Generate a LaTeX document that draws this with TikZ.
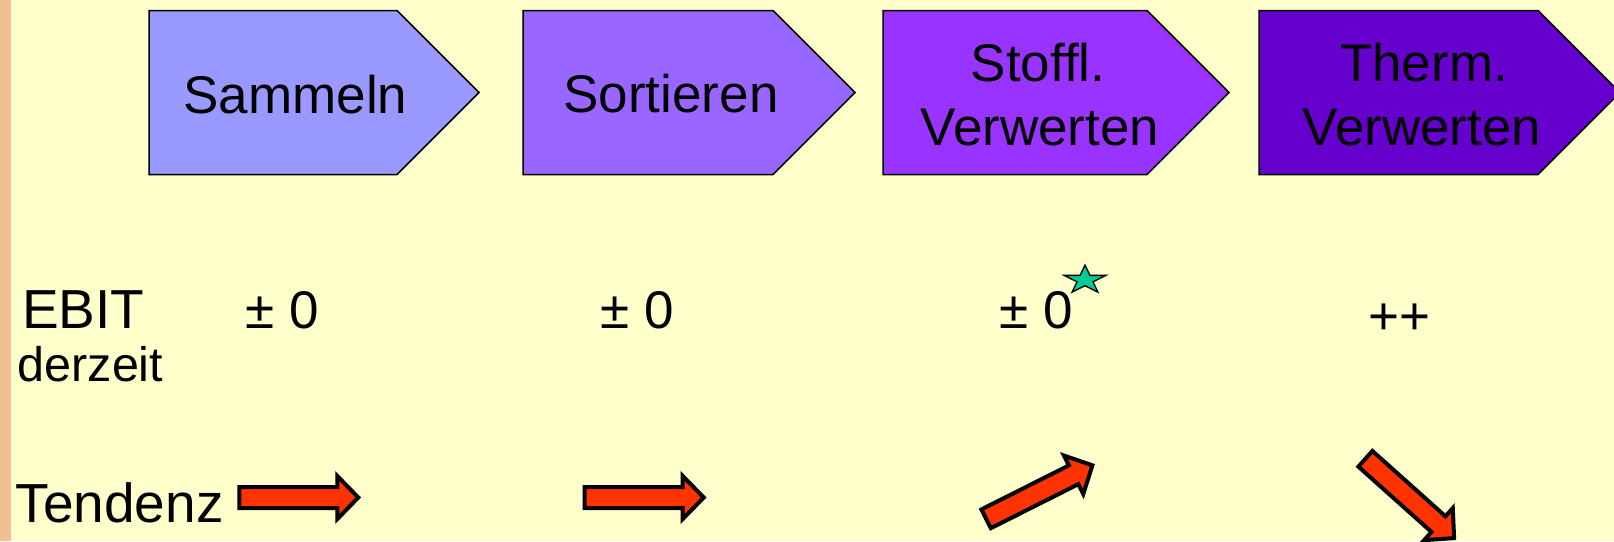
\documentclass[tikz,border=0pt]{standalone}
\usepackage{fontspec}
\setmainfont{Liberation Sans}[Ligatures=CommonOff]

\definecolor{bgyellow}{HTML}{FFFFCC}
\definecolor{sidebar}{HTML}{F2BF92}
\definecolor{stepA}{HTML}{9999FF}
\definecolor{stepB}{HTML}{9966FF}
\definecolor{stepC}{HTML}{9933FF}
\definecolor{stepD}{HTML}{6600CC}
\definecolor{trendred}{HTML}{FF3300}
\definecolor{startgreen}{HTML}{00CC99}

\tikzset{
  procbox/.style={draw=black, line width=1.5pt, line join=miter},
  lbl/.style={inner sep=0pt, anchor=base, font=\fontsize{53}{64}\selectfont},
  rowlbl/.style={inner sep=0pt, anchor=base west, font=\fontsize{55}{64}\selectfont},
  smalllbl/.style={inner sep=0pt, anchor=base west, font=\fontsize{48.5}{54}\selectfont},
  arrowshape/.style={draw=black, fill=trendred, line width=4pt, line join=miter},
  tendarrow/.pic={
    \draw[arrowshape] (0,-10.5) -- (98,-10.5) -- (98,-21.5) -- (119,0)
      -- (98,21.5) -- (98,10.5) -- (0,10.5) -- cycle;
  }
}

\begin{document}
\begin{tikzpicture}[x=1pt, y=-1pt]
  % page area and background
  \useasboundingbox (0,0) rectangle (1614,541);
  \clip (0,0) rectangle (1614,541);
  \fill[bgyellow] (0,0) rectangle (1614,541);
  \fill[sidebar] (0,0) rectangle (11,541);

  % process chain
  \draw[procbox, fill=stepA] (149,10.5) -- (397,10.5) -- (479,92.5) -- (397,174.5) -- (149,174.5) -- cycle;
  \draw[procbox, fill=stepB] (523,10.5) -- (773,10.5) -- (855,92.5) -- (773,174.5) -- (523,174.5) -- cycle;
  \draw[procbox, fill=stepC] (883,10.5) -- (1147,10.5) -- (1229,92.5) -- (1147,174.5) -- (883,174.5) -- cycle;
  \draw[procbox, fill=stepD] (1259,10.5) -- (1538,10.5) -- (1620,92.5) -- (1538,174.5) -- (1259,174.5) -- cycle;

  \node[lbl] (sammeln)   at (295.5,113) {Sammeln};
  \node[lbl] (sortieren) at (671,112)   {Sortieren};
  \node[lbl] (stoffl1)   at (1038,81)   {Stoffl.};
  \node[lbl] (stoffl2)   at (1040,145)  {Verwerten};
  \node[lbl] (therm1)    at (1424,81)   {Therm.};
  \node[lbl] (therm2)    at (1422,145)  {Verwerten};

  % EBIT row
  \node[rowlbl] (ebit) at (22,328) {EBIT};
  \node[smalllbl] (derzeit) at (17.5,381) {derzeit};
  \node[lbl] (v1) at (282.5,328) {± 0};
  \node[lbl] (v2) at (637,328)   {± 0};
  \node[lbl] (v3) at (1036,328)  {± 0};
  \node[lbl] (v4) at (1399,334)  {++};

  % marker star
  \coordinate (starc) at (1085,280);
  \draw[fill=startgreen, line width=1.3pt, line join=miter]
    (starc) +(270:22 and 15) -- +(306:8.4 and 5.7) -- +(342:22 and 15)
    -- +(18:8.4 and 5.7) -- +(54:22 and 15) -- +(90:8.4 and 5.7)
    -- +(126:22 and 15) -- +(162:8.4 and 5.7) -- +(198:22 and 15)
    -- +(234:8.4 and 5.7) -- cycle;

  % trend row
  \node[rowlbl] (tendenz) at (15.5,522) {Tendenz};
  \pic at (239.3,497.5) {tendarrow};
  \pic at (584.7,497.5) {tendarrow};
  \pic[rotate=26.7] at (986.1,518.8) {tendarrow};
  \pic[rotate=-41.8] at (1365.4,458.8) {tendarrow};
\end{tikzpicture}
\end{document}
